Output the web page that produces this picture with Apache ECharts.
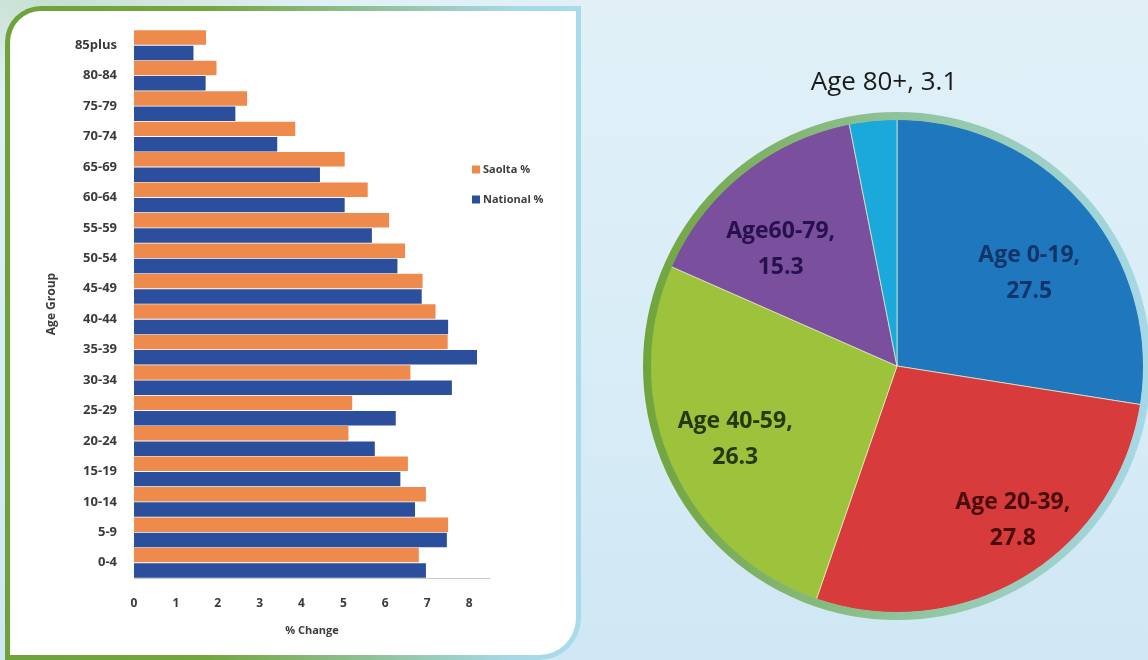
<!DOCTYPE html>
<html>
<head>
<meta charset="utf-8">
<script src="https://cdn.jsdelivr.net/npm/echarts@6/dist/echarts.min.js"></script>
<style>
    html, body {
        margin: 0;
        padding: 0;
    }
    body {
        width: 1148px;
        height: 660px;
        overflow: hidden;
        position: relative;
        background:
            radial-gradient(ellipse 260px 90px at 60px 0px, rgba(196, 222, 204, 0.9), rgba(196, 222, 204, 0)),
            linear-gradient(180deg, #e1f0f7 0%, #d9edf7 50%, #cfe7f4 100%);
    }
    .panel {
        position: absolute;
        left: 5px;
        top: 6px;
        width: 566px;
        height: 644px;
        padding: 5px;
        border-radius: 36px 0 42px 0;
        background: linear-gradient(to right, #6fa23a 0%, #74a63e 35%, #a6d8e6 88%, #a8dbea 100%);
    }
    .panel-inner {
        width: 100%;
        height: 100%;
        background: #fff;
        border-radius: 31px 0 37px 0;
    }
    #chart {
        position: absolute;
        left: 0;
        top: 0;
        width: 1148px;
        height: 660px;
    }
</style>
</head>
<body>
<div class="panel"><div class="panel-inner"></div></div>
<div id="chart"></div>
<script>
// bar chart: age groups from youngest (bottom) to oldest (top)
var ageGroups = ['0-4', '5-9', '10-14', '15-19', '20-24', '25-29', '30-34', '35-39', '40-44',
    '45-49', '50-54', '55-59', '60-64', '65-69', '70-74', '75-79', '80-84', '85plus'];
var saoltaPct = [6.8, 7.5, 6.97, 6.54, 5.12, 5.21, 6.6, 7.49, 7.2,
    6.89, 6.47, 6.09, 5.58, 5.03, 3.85, 2.7, 1.97, 1.72];
var nationalPct = [6.97, 7.47, 6.71, 6.36, 5.75, 6.25, 7.59, 8.19, 7.5,
    6.87, 6.29, 5.68, 5.03, 4.44, 3.42, 2.42, 1.71, 1.42];
var seriesNames = ['Saolta %', 'National %'];
var xTicks = [0, 1, 2, 3, 4, 5, 6, 7, 8];

// pie chart
var pieNames = ['Age 0-19', 'Age 20-39', 'Age 40-59', 'Age60-79', 'Age 80+'];
var pieValues = [27.5, 27.8, 26.3, 15.3, 3.1];

var pieColors = ['#1f77bd', '#d73b3b', '#9dc23c', '#7a4f9e', '#1ba9dc'];
var pieLabelColors = ['#10356a', '#4a0b0b', '#24390c', '#26114c', '#1a1a1a'];
// small nudges so the labels sit where Excel put them
var pieLabelShift = [[-2, 22], [25, 3], [0, 3], [-6, 21], [0, 0]];
var PIE_CX = 897, PIE_CY = 366;

var labelFont = "'Open Sans', 'DejaVu Sans', sans-serif";

var myChart = echarts.init(document.getElementById('chart'), null, {renderer: 'canvas'});

var pieData = pieNames.map(function (name, i) {
    return {
        name: name,
        value: pieValues[i],
        itemStyle: {color: pieColors[i]}
    };
});

var labelData = pieNames.map(function (name, i) {
    return {
        name: name,
        value: pieValues[i],
        label: {
            show: i < 4,
            color: pieLabelColors[i]
        }
    };
});

var option = {
    backgroundColor: 'transparent',
    animation: false,
    legend: {
        orient: 'vertical',
        left: 467,
        top: 159,
        itemWidth: 8,
        itemHeight: 8,
        itemGap: 19,
        icon: 'rect',
        data: seriesNames,
        textStyle: {
            fontFamily: labelFont,
            fontSize: 11,
            fontWeight: 'bold',
            color: '#3d3d3d',
            padding: [0, 0, 0, -2]
        }
    },
    grid: {
        left: 134,
        right: 658,
        top: 30,
        bottom: 82
    },
    xAxis: {
        type: 'value',
        min: xTicks[0],
        max: 8.5,
        interval: 1,
        name: '% Change',
        nameLocation: 'middle',
        nameGap: 47,
        nameTextStyle: {
            fontFamily: labelFont,
            fontSize: 11,
            fontWeight: 'bold',
            color: '#3a3a3a'
        },
        splitLine: {show: false},
        axisLine: {show: true, lineStyle: {color: '#c8c8c8'}},
        axisTick: {show: false},
        axisLabel: {
            showMaxLabel: false,
            margin: 20,
            fontFamily: labelFont,
            fontSize: 12,
            fontWeight: 'bold',
            color: '#3a3a3a'
        }
    },
    yAxis: {
        type: 'category',
        data: ageGroups,
        name: 'Age Group',
        nameLocation: 'middle',
        nameGap: 76,
        nameTextStyle: {
            fontFamily: labelFont,
            fontSize: 12,
            fontWeight: 'bold',
            color: '#3a3a3a'
        },
        axisLine: {show: false},
        axisTick: {show: false},
        axisLabel: {
            margin: 17,
            fontFamily: labelFont,
            fontSize: 13,
            fontWeight: 'bold',
            color: '#3a3a3a'
        }
    },
    series: [
        {
            name: seriesNames[0],
            type: 'bar',
            data: saoltaPct,
            barGap: '6%',
            barCategoryGap: '2%',
            itemStyle: {color: '#ee8a4c'}
        },
        {
            name: seriesNames[1],
            type: 'bar',
            data: nationalPct,
            itemStyle: {color: '#2b4f9d'}
        },
        {
            // the pie itself
            name: 'Population',
            type: 'pie',
            center: [PIE_CX, PIE_CY],
            radius: [0, 247],
            startAngle: 90,
            clockwise: true,
            silent: true,
            data: pieData,
            itemStyle: {
                borderColor: 'rgba(235, 240, 200, 0.7)',
                borderWidth: 1
            },
            label: {
                show: false
            },
            labelLine: {show: false}
        },
        {
            // transparent copy, only to place the labels further out than mid radius
            name: 'Labels',
            type: 'pie',
            center: [PIE_CX, PIE_CY],
            radius: [100, 247],
            startAngle: 90,
            clockwise: true,
            silent: true,
            data: labelData,
            itemStyle: {color: 'rgba(0,0,0,0)'},
            label: {
                position: 'inside',
                formatter: '{b},\n{c}',
                fontFamily: labelFont,
                fontSize: 23,
                fontWeight: 'bold',
                lineHeight: 36
            },
            labelLine: {show: false},
            labelLayout: function (params) {
                var s = pieLabelShift[params.dataIndex];
                return {dx: s[0], dy: s[1]};
            }
        },
        {
            // the 80+ label sits above the pie
            name: 'Outside',
            type: 'pie',
            center: [PIE_CX, PIE_CY],
            radius: [0, 247],
            startAngle: 90,
            clockwise: true,
            silent: true,
            data: pieNames.map(function (name, i) {
                return {name: name, value: pieValues[i], label: {show: i === 4}};
            }),
            itemStyle: {color: 'rgba(0,0,0,0)'},
            label: {
                position: 'outside',
                formatter: '{b}, {c}',
                fontFamily: labelFont,
                fontSize: 26,
                color: '#1a1a1a'
            },
            labelLine: {show: false},
            labelLayout: function () {
                return {
                    x: PIE_CX - 13,
                    y: PIE_CY - 283,
                    align: 'center',
                    verticalAlign: 'middle'
                };
            }
        }
    ],
    graphic: [
        {
            // ring round the pie
            type: 'circle',
            z: 100,
            silent: true,
            shape: {cx: PIE_CX, cy: PIE_CY, r: 250},
            style: {
                fill: null,
                lineWidth: 8,
                stroke: new echarts.graphic.LinearGradient(0, 0, 1, 0, [
                    {offset: 0, color: '#70a43a'},
                    {offset: 0.5, color: '#8fc39a'},
                    {offset: 1, color: '#a6d9e8'}
                ])
            }
        }
    ]
};

myChart.setOption(option);
</script>
</body>
</html>
